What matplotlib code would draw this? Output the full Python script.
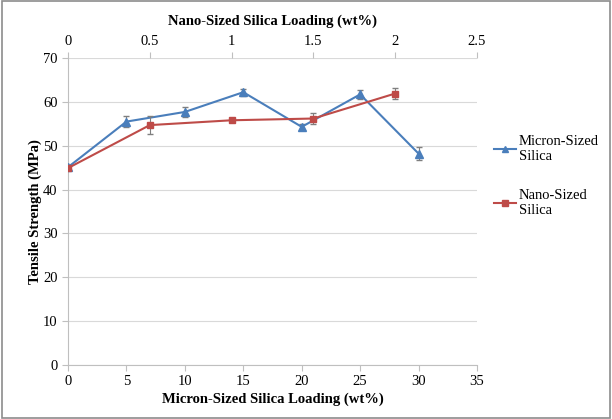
import matplotlib.pyplot as plt
from matplotlib.lines import Line2D

# tensile strength data
micron_loading = [0, 5, 10, 15, 20, 25, 30]
micron_strength = [45.1, 55.5, 57.7, 62.2, 54.3, 61.7, 48.2]
micron_err = [0.5, 1.3, 1.2, 0.8, 0.7, 1.1, 1.4]

nano_loading = [0, 0.5, 1.0, 1.5, 2.0]
nano_strength = [44.9, 54.7, 55.8, 56.2, 61.9]
nano_err = [0.5, 2.1, 0.3, 1.2, 1.3]

BLUE = '#4a7ebb'
RED = '#be4b48'

plt.rcParams['font.family'] = 'Liberation Serif'

fig = plt.figure(figsize=(6.12, 4.19), dpi=100)
ax = fig.add_axes([68/612, 1 - 365/419, (477-68)/612, (365-58)/419])
ax2 = ax.twiny()

ax.errorbar(micron_loading, micron_strength, yerr=micron_err, color=BLUE, marker='^',
            markersize=6, lw=1.5, ecolor='#7f7f7f', elinewidth=0.8, capsize=2, zorder=3)
ax2.errorbar(nano_loading, nano_strength, yerr=nano_err, color=RED, marker='s',
             markersize=5, lw=1.5, ecolor='#7f7f7f', elinewidth=0.8, capsize=2, zorder=3)

ax.set_xlim(0, 35)
ax.set_ylim(0, 70)
ax.set_xticks(range(0, 36, 5))
ax.set_yticks(range(0, 71, 10))
ax2.set_xlim(0, 2.5)
ax2.set_xticks([0, 0.5, 1, 1.5, 2, 2.5])
ax2.set_xticklabels(['0', '0.5', '1', '1.5', '2', '2.5'])

ax.yaxis.grid(True, color='#d9d9d9', lw=0.8)
ax.set_axisbelow(True)
for a in (ax, ax2):
    for s in ('top', 'right', 'left', 'bottom'):
        a.spines[s].set_visible(False)
ax.spines['left'].set_visible(True)
ax.spines['bottom'].set_visible(True)
ax.spines['left'].set_color('#bfbfbf')
ax.spines['bottom'].set_color('#bfbfbf')

ax.tick_params(axis='x', colors='#bfbfbf', labelcolor='black', labelsize=10.5, length=4)
ax.tick_params(axis='y', length=4, colors='#bfbfbf', labelcolor='black', labelsize=10.5)
ax2.tick_params(axis='x', colors='#bfbfbf', labelcolor='black', labelsize=10.5, length=4)

ax.set_xlabel('Micron-Sized Silica Loading (wt%)', fontweight='bold', fontsize=10.5, labelpad=3)
ax2.set_xlabel('Nano-Sized Silica Loading (wt%)', fontweight='bold', fontsize=10.5, labelpad=7)
ax.set_ylabel('Tensile Strength (MPa)', fontweight='bold', fontsize=10.5, labelpad=1)

handles = [Line2D([], [], color=BLUE, marker='^', markersize=5, lw=1.5),
           Line2D([], [], color=RED, marker='s', markersize=4, lw=1.5)]
fig.legend(handles, ['Micron-Sized\nSilica', 'Nano-Sized\nSilica'], loc='upper left',
           bbox_to_anchor=(481/612, 1 - 122/419), frameon=False, fontsize=10.5,
           handlelength=1.5, handletextpad=0.2, labelspacing=1.8)

# outer chart border
fig.patches.append(plt.Rectangle((0.003, 0.003), 0.994, 0.994, transform=fig.transFigure,
                                 fill=False, edgecolor='#8c8c8c', lw=1.2))

fig.savefig('out.png', dpi=100)
